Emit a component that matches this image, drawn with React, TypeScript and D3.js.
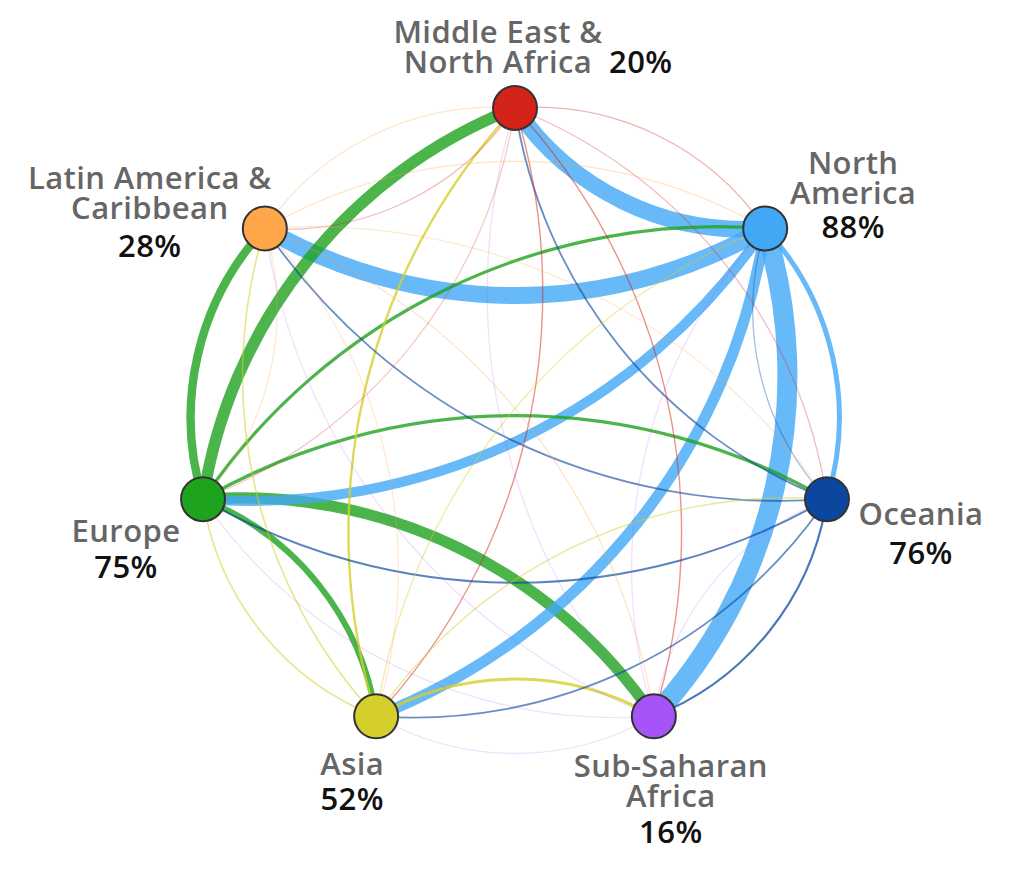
import React from "react";
import * as d3 from "d3";

// ---------- data ----------
const regionNames: string[][] = [
  ["Middle East &", "North Africa"],
  ["North", "America"],
  ["Oceania"],
  ["Sub-Saharan", "Africa"],
  ["Asia"],
  ["Europe"],
  ["Latin America &", "Caribbean"],
];
const regionPct: number[] = [20, 88, 76, 16, 52, 75, 28];
const regionColors: string[] = ["#d42318", "#42a8f6", "#0c479f", "#a653f7", "#d4cf2c", "#1ea31e", "#ffa54a"];

// flow values: row = source (colour owner), col = target
// order: MENA, N.America, Oceania, SSA, Asia, Europe, LatAm
const flowMENA: number[] = [0, 5, 4, 7, 7, 3, 4];
const flowNA: number[] = [82, 0, 25, 100, 55, 50, 85];
const flowOceania: number[] = [9, 5, 0, 11, 9, 10, 9];
const flowSSA: number[] = [2, 2, 2, 0, 2, 2, 2];
const flowAsia: number[] = [12, 6, 7, 15, 0, 8, 8];
const flowEurope: number[] = [58, 16, 17, 56, 30, 0, 42];
const flowLatAm: number[] = [4, 4, 3, 4, 3, 3, 0];
const flows: number[][] = [flowMENA, flowNA, flowOceania, flowSSA, flowAsia, flowEurope, flowLatAm];

// ---------- layout ----------
const W = 1030, H = 870;
const CX = 515, CY = 428, R = 320, NODE_R = 22;
const FONT = 31;
const LINE = 30;

// label placement per node: dx for names, first baseline dy, pct mode
type LabelLayout = { dx: number; dy: number; pctInline?: number; pctDy?: number };
const labelLayout: LabelLayout[] = [
  { dx: -17, dy: -65, pctInline: 94 },
  { dx: 88, dy: -54, pctDy: 10 },
  { dx: 94, dy: 26, pctDy: 65 },
  { dx: 17, dy: 61, pctDy: 127 },
  { dx: -24, dy: 59, pctDy: 94 },
  { dx: -77, dy: 43, pctDy: 79 },
  { dx: -115, dy: -39, pctDy: 29 },
];

export default function App() {
  const n = regionNames.length;
  const angle = d3.scaleLinear().domain([0, n]).range([0, 2 * Math.PI]);
  const nodes = regionNames.map((name, i) => {
    const a = angle(i);
    return { i, name, x: CX + R * Math.sin(a), y: CY - R * Math.cos(a) };
  });

  const width = (v: number) => Math.max(1.3, v / 5);
  const opacity = d3.scaleLinear().domain([0, 12]).range([0.05, 0.8]).clamp(true);

  const links: { s: number; t: number; v: number }[] = [];
  flows.forEach((row, s) => row.forEach((v, t) => { if (s !== t && v > 0) links.push({ s, t, v }); }));
  links.sort((a, b) => b.v - a.v);

  const arcPath = (s: number, t: number) => {
    const a = nodes[s], b = nodes[t];
    const dr = Math.hypot(b.x - a.x, b.y - a.y);
    return `M${a.x},${a.y}A${dr},${dr} 0 0,1 ${b.x},${b.y}`;
  };

  return (
    <svg width={W} height={H} style={{ position: "absolute", left: 0, top: 0, background: "#fff" }}
      fontFamily="'Open Sans', 'Noto Sans', sans-serif" fontWeight={600}>
      <g fill="none" strokeLinecap="round">
        {links.map((l, k) => (
          <path key={k} d={arcPath(l.s, l.t)} stroke={regionColors[l.s]} strokeWidth={width(l.v)} strokeOpacity={opacity(l.v)} />
        ))}
      </g>
      <g>
        {nodes.map((nd) => (
          <circle key={nd.i} cx={nd.x} cy={nd.y} r={NODE_R} fill={regionColors[nd.i]} stroke="#333" strokeWidth={2} />
        ))}
      </g>
      <g fontSize={FONT} letterSpacing={0.4}>
        {nodes.map((nd) => {
          const L = labelLayout[nd.i];
          const x = nd.x + L.dx;
          return (
            <g key={nd.i}>
              {nd.name.map((line, j) => (
                <text key={j} x={x} y={nd.y + L.dy + j * LINE} textAnchor="middle" fill="#666">{line}</text>
              ))}
              {L.pctInline !== undefined ? (
                <text x={nd.x + L.pctInline} y={nd.y + L.dy + (nd.name.length - 1) * LINE} textAnchor="start" fill="#111">{regionPct[nd.i]}%</text>
              ) : (
                <text x={x} y={nd.y + (L.pctDy as number)} textAnchor="middle" fill="#111">{regionPct[nd.i]}%</text>
              )}
            </g>
          );
        })}
      </g>
    </svg>
  );
}
